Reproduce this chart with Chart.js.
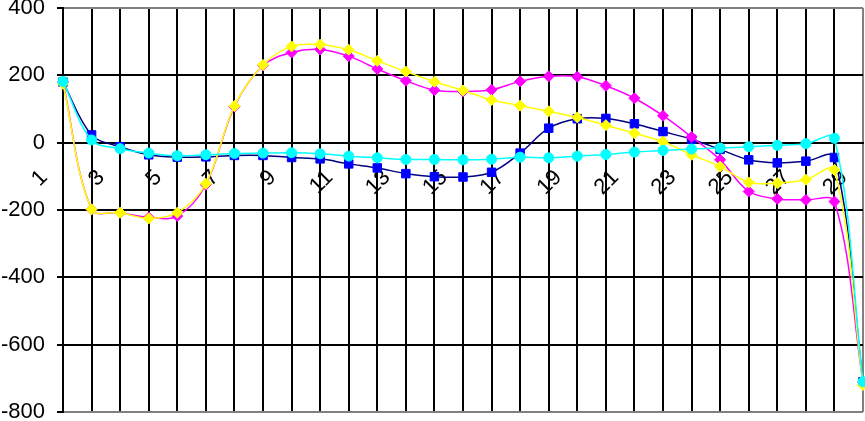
<!DOCTYPE html>
<html>
<head>
<meta charset="utf-8">
<script src="https://cdn.jsdelivr.net/npm/chart.js@4"></script>
<style>
  html, body { margin: 0; padding: 0; background: #fff; }
  #wrap { width: 865px; height: 421px; }
</style>
</head>
<body>
<div id="wrap"><canvas id="chart"></canvas></div>
<script>
// categories 1..29, only odd ones get a visible label
const categories = ['1','2','3','4','5','6','7','8','9','10','11','12','13','14','15',
  '16','17','18','19','20','21','22','23','24','25','26','27','28','29'];

const yTicks = [-800, -600, -400, -200, 0, 200, 400];

// navy line, blue squares
const seriesBlue = [180, 23, -12, -36, -43, -42, -38, -38, -44, -48, -63, -75, -92, -101, -102,
  -88, -31, 43, 71, 72, 56, 33, 10, -20, -51, -60, -55, -44, -710];
// magenta diamonds
const seriesMagenta = [180, -198, -208, -222, -218, -125, 107, 229, 268, 277, 257, 219, 184, 156, 152,
  157, 182, 197, 196, 169, 132, 80, 17, -51, -145, -167, -170, -175, -712];
// yellow diamonds
const seriesYellow = [175, -198, -208, -225, -208, -122, 109, 231, 286, 291, 276, 243, 211, 181, 155,
  127, 110, 93, 75, 52, 28, 3, -36, -71, -118, -120, -110, -81, -720];
// cyan circles
const seriesCyan = [182, 8, -18, -31, -39, -36, -32, -31, -30, -33, -40, -45, -50, -50, -51,
  -49, -43, -45, -40, -35, -28, -23, -19, -16, -12, -8, -3, 13, -710];

const font = { family: '"Liberation Sans", Arial, sans-serif', size: 22 };

function line(data, color, fill, shape, radius) {
  return {
    data: data,
    borderColor: color,
    backgroundColor: fill,
    pointBackgroundColor: fill,
    pointBorderColor: fill,
    borderWidth: 1.5,
    pointStyle: shape,
    pointRadius: radius,
    pointBorderWidth: 1,
    tension: 0.35,
    clip: false
  };
}

// first dataset is drawn on top in Chart.js, so cyan goes first
new Chart(document.getElementById('chart'), {
  type: 'line',
  data: {
    labels: categories,
    datasets: [
      line(seriesCyan, '#00FFFF', '#00FFFF', 'circle', 5),
      line(seriesYellow, '#FFFF00', '#FFFF00', 'rectRot', 5.5),
      line(seriesMagenta, '#FF00FF', '#FF00FF', 'rectRot', 5.5),
      line(seriesBlue, '#000080', '#0000FF', 'rect', 6)
    ]
  },
  options: {
    responsive: true,
    maintainAspectRatio: false,
    animation: false,
    layout: { autoPadding: false, padding: { top: 8, right: 2, bottom: 9, left: 0 } },
    plugins: { legend: { display: false }, tooltip: { enabled: false } },
    scales: {
      x: {
        position: { y: 0 },
        offset: false,
        grid: {
          color: ctx => ctx.index === categories.length - 1 ? '#808080' : '#000',
          lineWidth: 2,
          drawTicks: false
        },
        border: { color: '#000', width: 2 },
        ticks: {
          autoSkip: false,
          minRotation: 45,
          maxRotation: 45,
          labelOffset: -19,
          padding: 22,
          color: '#000',
          font: font,
          callback: function (value, index) {
            return index % 2 === 0 ? this.getLabelForValue(value) : '';
          }
        },
        afterFit(scale) {
          scale.paddingLeft = 0;
          scale.paddingRight = 0;
        }
      },
      y: {
        min: yTicks[0],
        max: yTicks[yTicks.length - 1],
        afterBuildTicks(scale) {
          scale.ticks = yTicks.map(v => ({ value: v }));
        },
        grid: {
          color: ctx => (ctx.tick && (ctx.tick.value === 400 || ctx.tick.value === -800)) ? '#808080' : '#000',
          lineWidth: 2,
          tickLength: 6,
          tickColor: '#000',
          tickWidth: 2
        },
        border: { color: '#000', width: 2 },
        ticks: {
          padding: 12,
          color: '#000',
          font: font
        },
        afterFit(scale) {
          scale.width = 63;
          scale.paddingTop = 0;
          scale.paddingBottom = 0;
        }
      }
    }
  }
});
</script>
</body>
</html>
